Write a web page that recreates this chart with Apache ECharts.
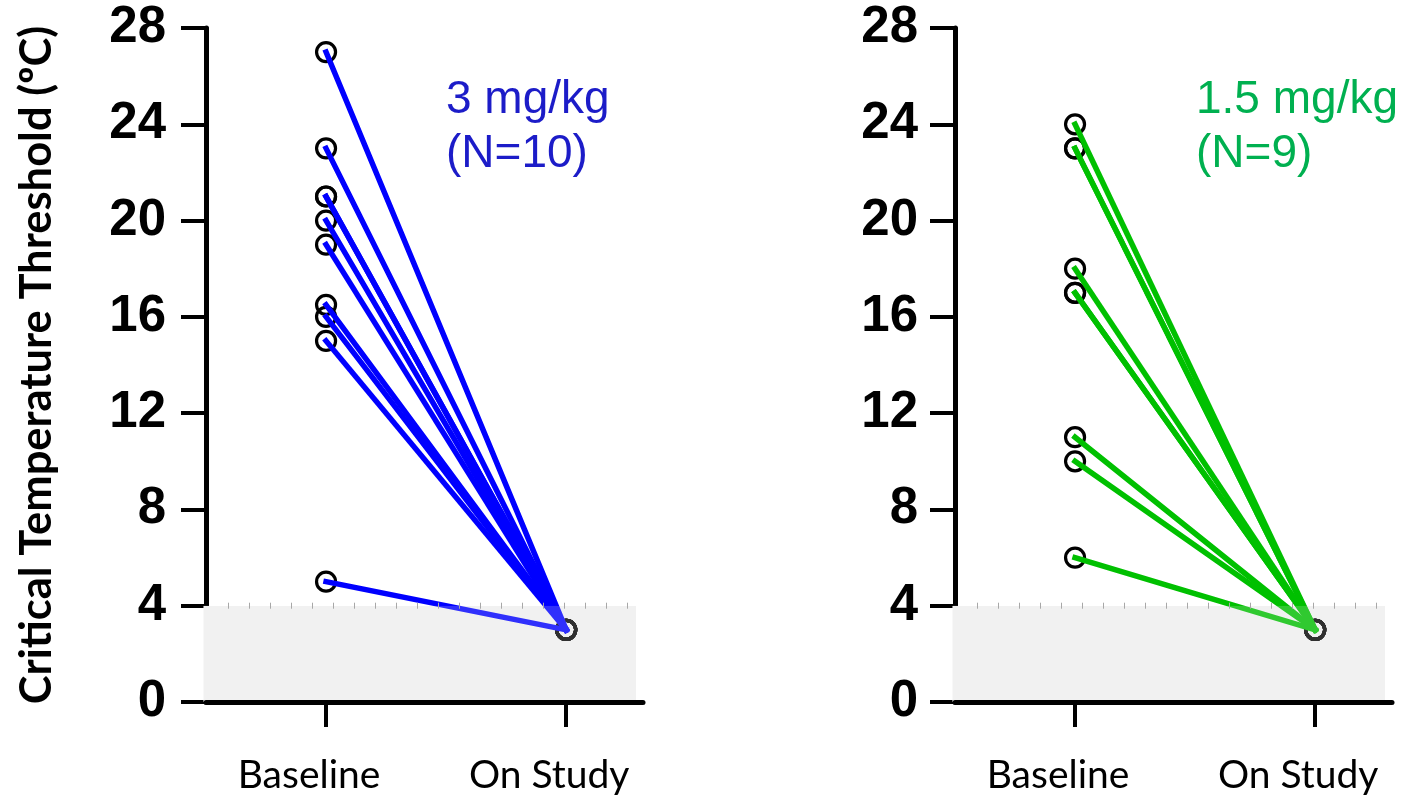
<!DOCTYPE html>
<html>
<head>
<meta charset="utf-8">
<script src="https://cdn.jsdelivr.net/npm/echarts@6/dist/echarts.min.js"></script>
<style>html,body{margin:0;padding:0;background:#fff}#c{width:1409px;height:796px}</style>
</head>
<body>
<div id="c"></div>
<script>
// ---- data ----
const categories = ['Baseline', 'On Study'];
const yTickValues = [0, 4, 8, 12, 16, 20, 24, 28];
const baseline3 = [27, 23, 21, 21, 20, 19, 16.5, 16, 15, 5];
const onStudy3  = [3, 3, 3, 3, 3, 3, 3, 3, 3, 3];
const baseline15 = [24, 23, 23, 18, 17, 17, 11, 10, 6];
const onStudy15  = [3, 3, 3, 3, 3, 3, 3, 3, 3];
const label3 = ['3 mg/kg', '(N=10)'];
const label15 = ['1.5 mg/kg', '(N=9)'];
const shadedMax = 4;
const rulerTicks = [0,1,2,3,4,5,6,7,8,9,10,11,12,13,14,15,16,17,18,19];

const chart = echarts.init(document.getElementById('c'));
const BLUE = '#0000ff', GREEN = '#00c000';
const labelFont = '"Liberation Sans", Arial, sans-serif';

function mainX(gi) {
  return {
    type: 'value', gridIndex: gi, min: -0.5, max: 1.32, z: 10,
    splitLine: {show: false},
    axisLine: {show: true, onZero: false, lineStyle: {color: '#000', width: 5}},
    axisTick: {show: true, customValues: [0, 1], length: 25, lineStyle: {color: '#000', width: 4}},
    axisLabel: {customValues: [0, 1], formatter: v => categories[Math.round(v)], fontFamily: 'Lato', fontSize: 39, color: '#000', margin: 54, padding: [0, 34, 0, 0]}
  };
}
function mainY(gi) {
  return {
    type: 'value', gridIndex: gi, min: 0, max: 28, interval: 4, z: 0,
    splitLine: {show: false},
    axisLine: {show: true, onZero: false, lineStyle: {color: '#000', width: 5}},
    axisTick: {show: true, length: 25, lineStyle: {color: '#000', width: 4}},
    axisLabel: {fontFamily: labelFont, fontWeight: 'bold', fontSize: 51, color: '#000', margin: gi === 0 ? 40 : 37},
    name: gi === 0 ? 'Critical Temperature Threshold (ºC)' : '',
    nameLocation: 'middle', nameGap: 147, nameRotate: 90,
    nameTextStyle: {fontFamily: 'Lato', fontWeight: 'bold', fontSize: 43.5, color: '#000'}
  };
}
function rulerX(gi) {
  return {
    type: 'value', gridIndex: gi, min: -1.17, max: 19.4, position: 'top', offset: -3, z: 8,
    splitLine: {show: false},
    axisLine: {show: true, onZero: false, lineStyle: {color: 'rgba(0,0,0,0)', width: 0}},
    axisTick: {show: true, customValues: rulerTicks, length: 6, inside: false, lineStyle: {color: '#a8a8a8', width: 1}},
    axisLabel: {show: false}
  };
}
function rulerY(gi) {
  return {type: 'value', gridIndex: gi, min: 0, max: shadedMax, show: false};
}

const series = [];
function addPanel(base, on, color, mainIdx, rulerIdx) {
  base.forEach((b, i) => {
    series.push({
      type: 'line', xAxisIndex: mainIdx, yAxisIndex: mainIdx, z: 3,
      data: [[0, b], [1, on[i]]], showSymbol: false, symbol: 'none',
      lineStyle: {color: color, width: 5.5, cap: 'square'}, silent: true, animation: false
    });
  });
  series.push({
    type: 'scatter', xAxisIndex: mainIdx, yAxisIndex: mainIdx, z: 2,
    data: base.map(b => [0, b]).concat(on.map(v => [1, v])),
    symbol: 'circle', symbolSize: 19,
    itemStyle: {color: 'rgba(0,0,0,0)', borderColor: '#000', borderWidth: 3.2, opacity: 1}, animation: false
  });
  // shaded band under and semi-transparent overlay on top
  const band = [[-1.17, shadedMax], [19.4, shadedMax]];
  series.push({
    type: 'line', xAxisIndex: rulerIdx, yAxisIndex: rulerIdx, z: 1, data: band,
    symbol: 'none', lineStyle: {width: 0}, areaStyle: {color: '#f2f2f2', opacity: 1}, animation: false
  });
  series.push({
    type: 'line', xAxisIndex: rulerIdx, yAxisIndex: rulerIdx, z: 6, data: band,
    symbol: 'none', lineStyle: {width: 0}, areaStyle: {color: 'rgba(242,242,242,0.2)', opacity: 1}, animation: false
  });
}
addPanel(baseline3, onStudy3, BLUE, 0, 2);
addPanel(baseline15, onStudy15, GREEN, 1, 3);

const bandTop = 28 + 674 * (1 - shadedMax / 28);
chart.setOption({
  animation: false,
  grid: [
    {left: 206, top: 28, width: 437, height: 674},
    {left: 955, top: 28, width: 437, height: 674},
    {left: 203.5, top: bandTop, width: 432.5, height: 702 - bandTop},
    {left: 952.5, top: bandTop, width: 432.5, height: 702 - bandTop}
  ],
  xAxis: [mainX(0), mainX(1), rulerX(2), rulerX(3)],
  yAxis: [mainY(0), mainY(1), rulerY(2), rulerY(3)],
  series: series,
  graphic: [
    {type: 'text', left: 446, top: 73, z: 20, style: {text: label3.join('\n'), font: '46px ' + labelFont, fill: '#1c1cc8', lineHeight: 54}},
    {type: 'text', left: 1196, top: 73, z: 20, style: {text: label15.join('\n'), font: '46px ' + labelFont, fill: '#00b050', lineHeight: 54}}
  ]
});
</script>
</body>
</html>
